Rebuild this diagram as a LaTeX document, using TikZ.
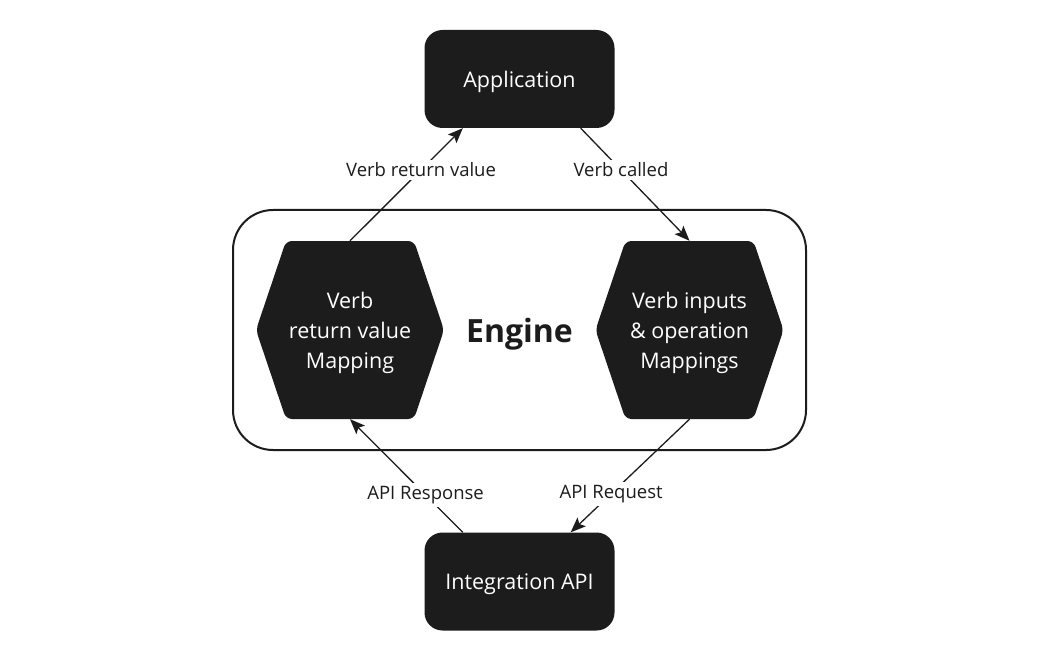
\documentclass[tikz,border=0pt]{standalone}
\usepackage{fontspec}
\setmainfont{Open Sans}
\usepackage{tikz}
\usetikzlibrary{positioning,calc,arrows.meta}
\definecolor{EngDark}{HTML}{1C1C1C}
\definecolor{EngLight}{HTML}{FFFFFF}

\tikzset{
  endbox/.style={fill=EngDark, text=white, rounded corners=18, minimum width=190, minimum height=98,
    text depth=0pt, font=\fontsize{21.5}{26}\selectfont},
  hexbox/.style={minimum width=188, minimum height=178, text=white, align=center,
    text depth=0pt, font=\fontsize{21.5}{30}\selectfont,
    path picture={
      \fill[EngDark, rounded corners=6]
        (path picture bounding box.north) -- ($(path picture bounding box.north east)+(-30,0)$)
        -- (path picture bounding box.east) -- ($(path picture bounding box.south east)+(-30,0)$)
        -- ($(path picture bounding box.south west)+(30,0)$) -- (path picture bounding box.west)
        -- ($(path picture bounding box.north west)+(30,0)$) -- cycle;
    }},
  flow/.style={draw=EngDark, line width=1.3pt, -{Stealth[length=15pt,width=12pt,inset=3pt]}},
  lbl/.style={fill=EngLight, text=EngDark, font=\fontsize{18.5}{22}\selectfont, inner sep=3pt}
}

\begin{document}
\begin{tikzpicture}[x=1pt,y=-1pt]
  \useasboundingbox[fill=EngLight] (0,0) rectangle (1040,660);

  % engine frame
  \node[draw=EngDark, line width=2pt, rounded corners=40, minimum width=573, minimum height=240,
    text depth=0pt, font=\fontsize{32}{38}\selectfont\bfseries, text=EngDark] (engine) at (519.5,330) {Engine};

  \node[hexbox] (retmap) at (350,330) {Verb\\return value\\Mapping};
  \node[hexbox] (inmap) at (689.5,330) {Verb inputs\\\& operation\\Mappings};

  \node[endbox] (app) at (519.5,79) {Application};
  \node[endbox] (api) at (519.5,581.5) {Integration API};

  % calls between the parts
  \draw[flow] (retmap.north) -- node[lbl,pos=0.63] {Verb return value} ($(app.south west)+(38.5,0)$);
  \draw[flow] ($(app.south east)+(-34,0)$) -- node[lbl,pos=0.37] {Verb called} (inmap.north);
  \draw[flow] (inmap.south) -- node[lbl,pos=0.66] {API Request} ($(api.north east)+(-44,0)$);
  \draw[flow] ($(api.north west)+(38.5,0)$) -- node[lbl,pos=0.33] {API Response} (retmap.south);
\end{tikzpicture}
\end{document}
